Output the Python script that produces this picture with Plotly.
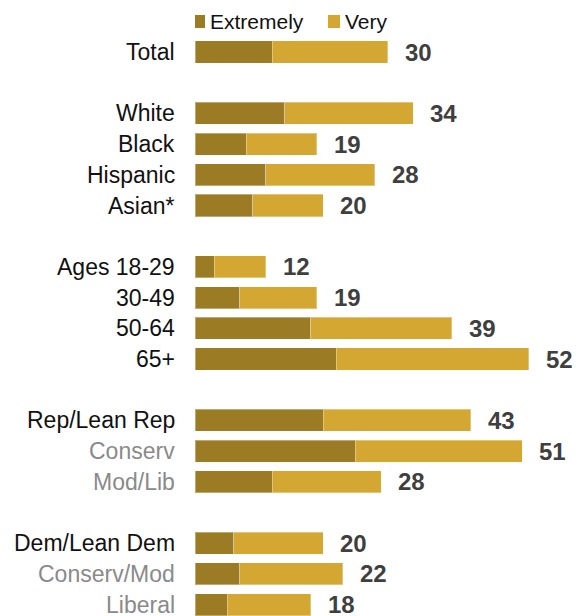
import plotly.graph_objects as go

categories = ["Total", "White", "Black", "Hispanic", "Asian*",
              "Ages 18-29", "30-49", "50-64", "65+",
              "Rep/Lean Rep", "Conserv", "Mod/Lib",
              "Dem/Lean Dem", "Conserv/Mod", "Liberal"]
positions = [0, 2, 3, 4, 5, 7, 8, 9, 10, 12, 13, 14, 16, 17, 18]
extremely = [12, 14, 8, 11, 9, 3, 7, 18, 22, 20, 25, 12, 6, 7, 5]
very = [18, 20, 11, 17, 11, 8, 12, 22, 30, 23, 26, 17, 14, 16, 13]
totals = [30, 34, 19, 28, 20, 12, 19, 39, 52, 43, 51, 28, 20, 22, 18]
sub_rows = {"Conserv", "Mod/Lib", "Conserv/Mod", "Liberal"}
legend_names = ["Extremely", "Very"]

FONT = "Liberation Sans"
C_EXT = "#9C7B25"
C_VERY = "#D3A731"
colors = [C_EXT, C_VERY]

fig = go.Figure()
for name, vals, col in zip(legend_names, [extremely, very], colors):
    fig.add_trace(go.Bar(y=positions, x=vals, orientation="h", name=name,
                         marker=dict(color=col, line=dict(color="rgba(255,255,255,0.35)", width=1)),
                         width=0.72, hoverinfo="skip", showlegend=False))

annotations = []
for cat, pos, e, v, t in zip(categories, positions, extremely, very, totals):
    color = "#8a8a8a" if cat in sub_rows else "#111111"
    annotations.append(dict(x=0, y=pos, xref="x", yref="y", text=cat, showarrow=False,
                            xanchor="right", yanchor="middle", xshift=-18,
                            font=dict(family=FONT, size=23, color=color)))
    annotations.append(dict(x=e + v, y=pos, xref="x", yref="y", text="<b>%d</b>" % t,
                            showarrow=False, xanchor="left", yanchor="middle", xshift=15,
                            font=dict(family=FONT, size=24, color="#3f3f3f")))

# custom legend (squares + labels) above the bars
shapes = []
legend_offsets = [-2, 133]
for name, col, off in zip(legend_names, colors, legend_offsets):
    shapes.append(dict(type="rect", xref="x", yref="paper", xsizemode="pixel", ysizemode="pixel",
                       xanchor=0, yanchor=1, x0=off, x1=off + 12, y0=-28, y1=-15,
                       fillcolor=col, line=dict(width=0)))
    annotations.append(dict(x=0, y=1, xref="x", yref="paper", text=name, showarrow=False,
                            xanchor="left", yanchor="middle", xshift=off + 15, yshift=-21,
                            font=dict(family=FONT, size=21, color="#111111")))

fig.update_layout(
    width=580, height=616,
    margin=dict(l=195, r=0, t=0, b=0),
    barmode="stack",
    plot_bgcolor="white", paper_bgcolor="white",
    xaxis=dict(range=[0, 60], visible=False, fixedrange=True),
    yaxis=dict(range=[18.37, -1.694], visible=False, fixedrange=True),
    showlegend=False,
    annotations=annotations,
    shapes=shapes,
    font=dict(family=FONT),
)

fig.write_html("out.html", config={"displayModeBar": False},
               post_script="document.body.style.margin='0';document.body.style.overflow='hidden';")
